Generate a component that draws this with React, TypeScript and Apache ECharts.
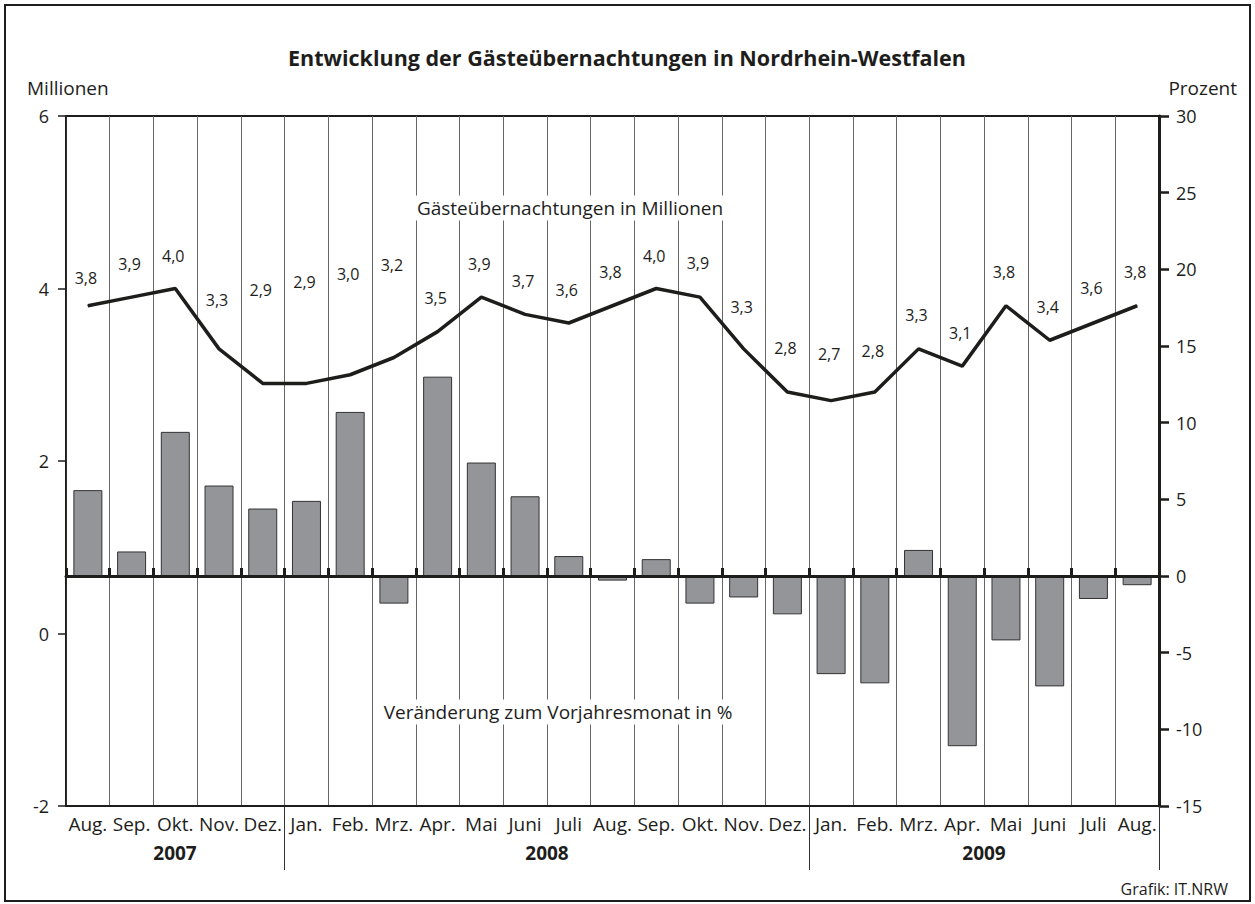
import React, { useEffect, useRef } from "react";
import * as echarts from "echarts";

const months = ["Aug.", "Sep.", "Okt.", "Nov.", "Dez.", "Jan.", "Feb.", "Mrz.", "Apr.", "Mai", "Juni", "Juli", "Aug.", "Sep.", "Okt.", "Nov.", "Dez.", "Jan.", "Feb.", "Mrz.", "Apr.", "Mai", "Juni", "Juli", "Aug."];
const years = ["2007", "2008", "2009"];
// Gästeübernachtungen in Millionen
const overnight = [3.8, 3.9, 4.0, 3.3, 2.9, 2.9, 3.0, 3.2, 3.5, 3.9, 3.7, 3.6, 3.8, 4.0, 3.9, 3.3, 2.8, 2.7, 2.8, 3.3, 3.1, 3.8, 3.4, 3.6, 3.8];
// Veränderung zum Vorjahresmonat in %
const change = [5.6, 1.6, 9.4, 5.9, 4.4, 4.9, 10.7, -1.8, 13.0, 7.4, 5.2, 1.3, -0.3, 1.1, -1.8, -1.4, -2.5, -6.4, -7.0, 1.7, -11.1, -4.2, -7.2, -1.5, -0.6];
const leftTicks = { min: -2, max: 6, interval: 2 };
const rightTicks = { min: -15, max: 30, interval: 5 };

// label placement (pixels above each point) – styling only
const labelLift = [28, 33, 33, 49, 93, 101, 101, 93, 34, 33, 33, 33, 34, 33, 34, 42, 44, 47, 41, 34, 33, 34, 33, 35, 34];
const yearX = [175, 547, 984];

const FONT = "'Open Sans', 'Noto Sans', sans-serif";
const INK = "#1d1d1b";

export default function App() {
  const ref = useRef<HTMLDivElement>(null);
  useEffect(() => {
    document.body.style.margin = "0";
    const chart = echarts.init(ref.current!, null, { renderer: "svg" });
    const fmt = (v: number) => v.toFixed(1).replace(".", ",");
    chart.setOption({
      animation: false,
      backgroundColor: "#ffffff",
      textStyle: { fontFamily: FONT },
      grid: { left: 66, right: 96, top: 116, bottom: 98, show: true, borderColor: INK, borderWidth: 2 },
      xAxis: [
        {
          type: "category",
          data: months,
          position: "bottom",
          boundaryGap: true,
          axisLine: { onZero: false, lineStyle: { color: INK, width: 2 } },
          axisTick: {
            show: true,
            length: 64,
            interval: (i: number) => i === 5 || i === 17,
            lineStyle: { color: "#333", width: 1 },
          },
          axisLabel: { interval: 0, fontSize: 19, color: INK, margin: 8, fontFamily: FONT },
          splitLine: { show: true, interval: 0, lineStyle: { color: "#666", width: 1 } },
        },
        {
          type: "category",
          data: months,
          position: "bottom",
          boundaryGap: true,
          z: 5,
          axisLine: { onZero: true, onZeroAxisIndex: 1, lineStyle: { color: INK, width: 3 } },
          axisTick: { show: true, inside: true, length: 8, interval: 0, lineStyle: { color: INK, width: 3 } },
          axisLabel: { show: false },
          splitLine: { show: false },
        },
      ],
      yAxis: [
        {
          type: "value",
          position: "left",
          ...leftTicks,
          axisLine: { show: true, lineStyle: { color: INK, width: 1.5 } },
          axisTick: { show: true, length: 8, lineStyle: { color: INK, width: 1.5 } },
          axisLabel: { fontSize: 18, color: INK, margin: 17, fontFamily: FONT, padding: [0, 0, 7, 0] },
          splitLine: { show: false },
        },
        {
          type: "value",
          position: "right",
          ...rightTicks,
          axisLine: { show: true, lineStyle: { color: INK, width: 3 } },
          axisTick: { show: true, length: 10, lineStyle: { color: INK, width: 2.5 } },
          axisLabel: { fontSize: 18, color: INK, margin: 17, fontFamily: FONT, padding: [0, 0, 7, 0] },
          splitLine: { show: false },
        },
      ],
      series: [
        {
          type: "bar",
          xAxisIndex: 0,
          yAxisIndex: 1,
          data: change,
          barWidth: 29,
          itemStyle: { color: "#939598", borderColor: "#333", borderWidth: 1 },
          z: 2,
        },
        {
          type: "line",
          xAxisIndex: 0,
          yAxisIndex: 0,
          data: overnight.map((v, i) => ({ value: v, label: { offset: [-2, -labelLift[i]] } })),
          symbol: "circle",
          symbolSize: 1,
          showSymbol: true,
          itemStyle: { color: INK },
          lineStyle: { color: INK, width: 3.5 },
          label: {
            show: true,
            position: "inside",
            fontSize: 16,
            color: INK,
            fontFamily: FONT,
            formatter: (p: any) => fmt(p.value),
          },
          z: 4,
        },
      ],
      graphic: [
        {
          type: "rect",
          z: 0,
          shape: { x: 5, y: 5, width: 1245, height: 896 },
          style: { fill: "none", stroke: INK, lineWidth: 2 },
        },
        {
          type: "text",
          x: 627,
          y: 57,
          style: { text: "Entwicklung der Gästeübernachtungen in Nordrhein-Westfalen", font: `bold 21.5px ${FONT}`, fill: INK, align: "center", verticalAlign: "middle" },
        },
        { type: "text", x: 27, y: 88, style: { text: "Millionen", font: `19px ${FONT}`, fill: INK, align: "left", verticalAlign: "middle" } },
        { type: "text", x: 1237, y: 88, style: { text: "Prozent", font: `19px ${FONT}`, fill: INK, align: "right", verticalAlign: "middle" } },
        {
          type: "text",
          z: 100,
          x: 570,
          y: 208,
          style: { text: "Gästeübernachtungen in Millionen", font: `19px ${FONT}`, fill: INK, align: "center", verticalAlign: "middle", backgroundColor: "#fff", padding: [3, 2] },
        },
        {
          type: "text",
          z: 100,
          x: 558,
          y: 712,
          style: { text: "Veränderung zum Vorjahresmonat in %", font: `19px ${FONT}`, fill: INK, align: "center", verticalAlign: "middle", backgroundColor: "#fff", padding: [3, 2] },
        },
        ...years.map((y, i) => ({
          type: "text",
          x: yearX[i],
          y: 853,
          style: { text: y, font: `bold 19px ${FONT}`, fill: INK, align: "center", verticalAlign: "middle" },
        })),
        { type: "text", x: 1228, y: 889, style: { text: "Grafik: IT.NRW", font: `16px ${FONT}`, fill: INK, align: "right", verticalAlign: "middle" } },
      ],
    });
    return () => chart.dispose();
  }, []);
  return <div ref={ref} style={{ position: "absolute", left: 0, top: 0, width: 1255, height: 904 }} />;
}
